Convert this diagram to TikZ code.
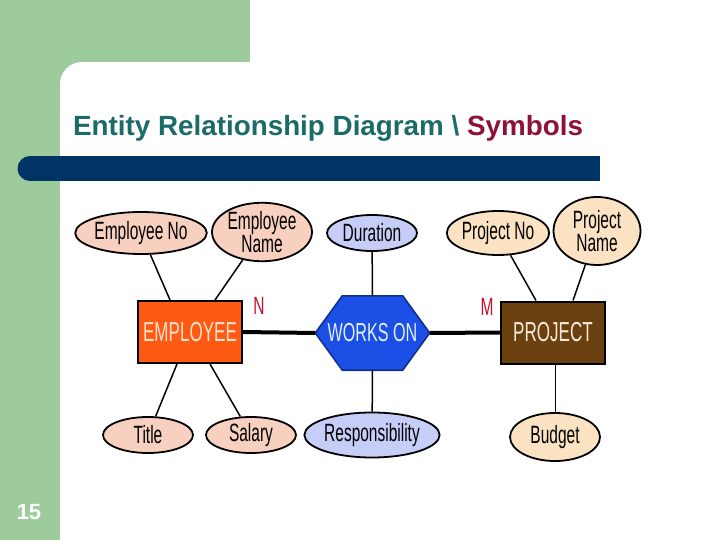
\documentclass[tikz,border=0pt]{standalone}
\usepackage{fontspec}
\setmainfont{Liberation Sans}
\newfontfamily\narrowfont[FakeStretch=0.62]{Liberation Sans}
\usetikzlibrary{shapes.geometric,calc}
\definecolor{slidegreen}{HTML}{9DCB9B}
\definecolor{barblue}{HTML}{003366}
\definecolor{titleteal}{HTML}{1B6B68}
\definecolor{titlered}{HTML}{8E1238}
\definecolor{empattr}{HTML}{F8D0BF}
\definecolor{projattr}{HTML}{FBE2C2}
\definecolor{relattr}{HTML}{C6CDF6}
\definecolor{empfill}{HTML}{FF5A14}
\definecolor{emptext}{HTML}{FFE2CC}
\definecolor{projfill}{HTML}{6B400F}
\definecolor{projtext}{HTML}{F6EADA}
\definecolor{relfill}{HTML}{1B4FE6}
\definecolor{reltext}{HTML}{E2F0FF}
\definecolor{relborder}{HTML}{10308E}
\definecolor{cardred}{HTML}{C8102E}
\tikzset{
  attr/.style={ellipse, draw=black, line width=1.8pt, inner sep=0pt, font=\narrowfont\fontsize{25}{23}\selectfont, text=black, align=center},
  entity/.style={rectangle, draw=black, line width=2pt, minimum width=104pt, minimum height=62pt, inner sep=0pt, font=\narrowfont\fontsize{27.5}{27.5}\selectfont},
  link/.style={line width=1.5pt, black},
  thicklink/.style={line width=4pt, black},
  card/.style={font=\narrowfont\fontsize{25}{25}\selectfont, text=cardred}
}
\begin{document}
\begin{tikzpicture}[x=1pt,y=-1pt]
\useasboundingbox (0,0) rectangle (720,540);
\fill[white] (0,0) rectangle (720,540);
% green background
\fill[slidegreen] (0,0) rectangle (250,84);
\fill[slidegreen] (0,0) rectangle (60,540);
\fill[white] (82,62) rectangle (720,540);
\fill[white] (60,84) rectangle (720,540);
\fill[white] (82,84) circle[radius=22];
% title
\node[anchor=base west, inner sep=0pt, font=\bfseries\fontsize{27.8}{27.8}\selectfont] (title) at (73,136)
  {\textcolor{titleteal}{Entity Relationship Diagram \textbackslash{}} \textcolor{titlered}{Symbols}};
% blue bar
\fill[barblue] (30,156) rectangle (600,181);
\fill[barblue] (30,168.5) circle[radius=12.5];
% page number
\node[font=\bfseries\fontsize{22}{22}\selectfont, text=white] (pg) at (29,512) {15};

% attributes
\node[attr, fill=empattr, minimum width=116pt, minimum height=42pt] (eno) at (141,233) {Employee No};
\node[attr, fill=empattr, minimum width=100pt, minimum height=56pt] (ename) at (262,232) {Employee\\Name};
\node[attr, fill=relattr, minimum width=90pt, minimum height=36pt] (dur) at (372,233) {Duration};
\node[attr, fill=projattr, minimum width=90pt, minimum height=44pt] (pno) at (498,233) {Project No};
\node[attr, fill=projattr, minimum width=87pt, minimum height=68pt] (pname) at (597,231) {Project\\Name};
\node[attr, fill=empattr, minimum width=90pt, minimum height=36pt] (title2) at (148,435) {Title};
\node[attr, fill=empattr, minimum width=90pt, minimum height=36pt] (sal) at (251,435) {Salary};
\node[attr, fill=relattr, minimum width=112pt, minimum height=45pt] (resp) at (372,435) {Responsibility};
\node[attr, fill=projattr, minimum width=90pt, minimum height=48pt] (bud) at (555,437) {Budget};

% entities
\node[entity, fill=empfill, text=emptext] (emp) at (190,332) {EMPLOYEE};
\node[entity, fill=projfill, text=projtext] (proj) at (553,332.5) {PROJECT};

% relationship
\node[rectangle, minimum width=114pt, minimum height=74pt, inner sep=0pt] (wo) at (372.5,333) {};
\fill[relfill, draw=relborder, line width=1.6pt] (wo.west) -- ([xshift=27pt]wo.north west) -- ([xshift=-27pt]wo.north east) -- (wo.east) -- ([xshift=-27pt]wo.south east) -- ([xshift=27pt]wo.south west) -- cycle;
\node[font=\narrowfont\fontsize{26}{26}\selectfont, text=reltext] (wotext) at (wo.center) {WORKS ON};

% connectors
\draw[thicklink] (emp.east) -- (wo.west);
\draw[thicklink] (wo.east) -- (proj.west);
\draw[link] (eno) -- ([xshift=33pt]emp.north west);
\draw[link] (ename) -- ([xshift=78pt]emp.north west);
\draw[link] (dur) -- (wo.north);
\draw[link] (pno) -- ([xshift=36pt]proj.north west);
\draw[link] (pname) -- ([xshift=73pt]proj.north west);
\draw[link] ([xshift=40pt]emp.south west) -- (title2);
\draw[link] ([xshift=73pt]emp.south west) -- (sal);
\draw[link] (wo.south) -- (resp);
\draw[line width=0.9pt] (proj.south -| bud.north) -- (bud.north);

% cardinalities
\node[card] (cn) at (259,306) {N};
\node[card] (cm) at (487,307) {M};
\end{tikzpicture}
\end{document}
